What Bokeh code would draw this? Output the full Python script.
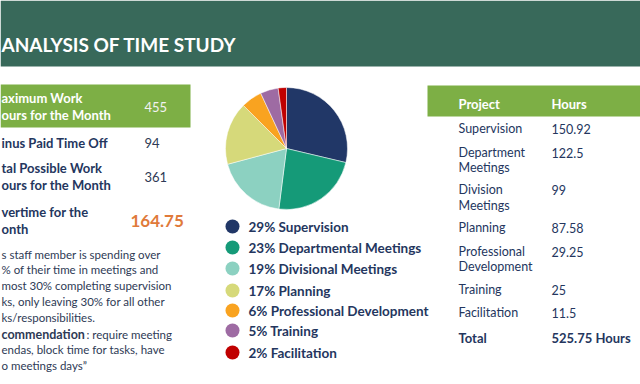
import numpy as np
from bokeh.plotting import figure
from bokeh.models import Range1d, ColumnDataSource
from bokeh.core.properties import value
from bokeh.embed import file_html
from bokeh.resources import INLINE

# ---------------- data ----------------
title = "ANALYSIS OF TIME STUDY"
categories = ["Supervision", "Departmental Meetings", "Divisional Meetings", "Planning",
              "Professional Development", "Training", "Facilitation"]
percents = [29, 23, 19, 17, 6, 5, 2]
slice_colors = ["#213767", "#159A78", "#8CD1C1", "#D6D97A", "#F9A320", "#9E6BA3", "#C00000"]

project_names = [["Supervision"], ["Department", "Meetings"], ["Division", "Meetings"], ["Planning"],
                 ["Professional", "Development"], ["Training"], ["Facilitation"]]
hours = [150.92, 122.5, 99, 87.58, 29.25, 25, 11.5]
total_hours = 525.75
table_header = ["Project", "Hours"]

# left-hand texts as visible in the (cropped) slide
summary_labels = [["aximum Work", "ours for the Month"], ["inus Paid Time Off"],
                  ["tal Possible Work", "ours for the Month"], ["vertime for the", "onth"]]
summary_values = [455, 94, 361, 164.75]

para_lines = ["s staff member is spending over", "% of their time in meetings and",
              "most 30% completing supervision", "ks, only leaving 30% for all other",
              "ks/responsibilities."]
rec_bold = "commendation"
rec_lines = [": require meeting", "endas, block time for tasks, have", "o meetings days\u201d"]

# ---------------- layout helpers ----------------
H = 384
def Y(ry):
    return H - ry

FONT = value("Lato")
NAVY = "#24365E"
BODY = "#2E3A55"
GREEN = "#7DAF45"
HEAD = "#38695A"

p = figure(width=640, height=384, x_range=Range1d(0, 640), y_range=Range1d(0, 384),
           output_backend="svg", toolbar_location=None, min_border=0)
p.axis.visible = False
p.grid.visible = False
p.outline_line_color = None
p.background_fill_color = "white"
p.border_fill_color = "white"

def txt(x, ry, s, size, color, bold=False, align="left"):
    p.text(x=[x], y=[Y(ry)], text=[s], text_font=FONT, text_font_size=f"{size}px",
           text_color=color, text_font_style="bold" if bold else "normal",
           text_align=align, text_baseline="middle")

# header band
p.quad(left=[0], right=[640], top=[Y(0)], bottom=[Y(66)], fill_color=HEAD, line_color=None)
txt(1, 44, title, 19, "white", bold=True)

# left summary table
p.quad(left=[0], right=[190], top=[Y(84)], bottom=[Y(127)], fill_color=GREEN, line_color=None)
label_ys = [[97, 114], [142], [167, 184], [211, 228]]
value_ys = [106, 142, 176, 220]
for i, (lines, ys) in enumerate(zip(summary_labels, label_ys)):
    col = "white" if i == 0 else NAVY
    for s, yy in zip(lines, ys):
        txt(1, yy, s, 13, col, bold=True)
for i, (v, yy) in enumerate(zip(summary_values, value_ys)):
    if i == 0:
        txt(144, yy, f"{v:g}", 13, "#F2F2F2")
    elif i == 3:
        txt(130, yy, f"{v:g}", 17, "#E07A3A", bold=True)
    else:
        txt(144, yy, f"{v:g}", 13, BODY)

# paragraph
para_ys = [254, 269, 285, 301, 317]
for s, yy in zip(para_lines, para_ys):
    txt(1, yy, s, 11.5, BODY)
txt(1, 334, rec_bold, 12.5, BODY, bold=True)
txt(86, 334, rec_lines[0], 11.5, BODY)
txt(1, 349, rec_lines[1], 11.5, BODY)
txt(1, 365, rec_lines[2], 11.5, BODY)

# pie chart
vals = np.array(hours, dtype=float)
frac = vals / vals.sum()
cum = np.concatenate([[0], np.cumsum(frac)])
start = np.pi / 2 - 2 * np.pi * cum[1:]
end = np.pi / 2 - 2 * np.pi * cum[:-1]
pie_src = ColumnDataSource(dict(start=start, end=end, color=slice_colors))
p.wedge(x=286, y=Y(148), radius=61, start_angle="start", end_angle="end",
        fill_color="color", line_color="white", line_width=0.5, source=pie_src)

# legend
leg_ys = [226, 247, 268, 290, 310, 330, 352]
leg_src = ColumnDataSource(dict(x=[232] * 7, y=[Y(v) for v in leg_ys], color=slice_colors,
                                tx=[248] * 7, label=[f"{a}% {c}" for a, c in zip(percents, categories)]))
p.scatter(x="x", y="y", size=14, fill_color="color", line_color=None, source=leg_src)
p.text(x="tx", y="y", text="label", text_font=FONT, text_font_size="13.5px", text_color=NAVY,
       text_font_style="bold", text_baseline="middle", source=leg_src)

# right table
p.quad(left=[427], right=[640], top=[Y(85)], bottom=[Y(116)], fill_color=GREEN, line_color=None)
txt(458, 103, table_header[0], 13, "white", bold=True)
txt(551, 103, table_header[1], 13, "white", bold=True)
row_ys = [[128], [152, 167], [189, 205], [227], [251, 266], [289], [312]]
for names, ys, h in zip(project_names, row_ys, hours):
    for s, yy in zip(names, ys):
        txt(458, yy, s, 12.5, NAVY)
    txt(551, ys[0], f"{h:g}", 12.5, NAVY)
txt(458, 337, "Total", 13, NAVY, bold=True)
txt(551, 337, f"{total_hours:g} Hours", 13, NAVY, bold=True)

open("out.html", "w").write(file_html(p, INLINE))
